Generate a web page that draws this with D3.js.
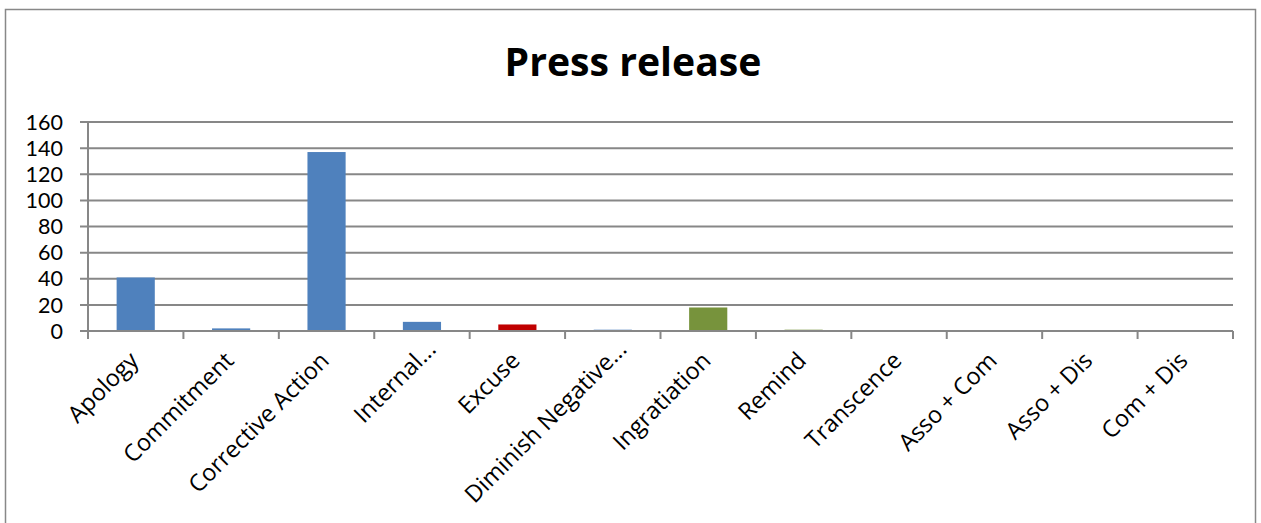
<!DOCTYPE html>
<html><head><meta charset="utf-8">
<script src="https://cdn.jsdelivr.net/npm/d3@7"></script>
<style>body{margin:0;background:#fff}svg{display:block}</style>
</head><body>
<svg id="c" width="1261" height="523"></svg>
<script>
const categories = ["Apology","Commitment","Corrective Action","Internal...","Excuse","Diminish Negative...","Ingratiation","Remind","Transcence","Asso + Com","Asso + Dis","Com + Dis"];
const values = [41, 2, 137, 7, 5, 1, 18, 1, 0, 0, 0, 0];
const colors = ["#4F81BD","#4F81BD","#4F81BD","#4F81BD","#C00000","#4F81BD","#77933C","#77933C","#4F81BD","#4F81BD","#4F81BD","#4F81BD"];
const yTicks = [0,20,40,60,80,100,120,140,160];
const title = "Press release";

const svg = d3.select("#c");
const m = {left: 88, right: 1233, top: 122, bottom: 331};
const font = "'Open Sans', 'Liberation Sans', sans-serif";
const gridColor = "#878787";

// frame
svg.append("rect").attr("x", 5.5).attr("y", 9.5).attr("width", 1250).attr("height", 530)
  .attr("fill", "#fff").attr("stroke", "#888").attr("stroke-width", 1.5);

const x = d3.scaleBand().domain(categories).range([m.left, m.right]).paddingInner(0.6).paddingOuter(0.3);
const xb = d3.scaleBand().domain(categories).range([m.left, m.right]);
const y = d3.scaleLinear().domain([0, 160]).range([m.bottom, m.top]);

// gridlines with left ticks
svg.append("g").selectAll("line").data(yTicks).join("line")
  .attr("x1", m.left - 8).attr("x2", m.right)
  .attr("y1", d => y(d)).attr("y2", d => y(d))
  .attr("stroke", gridColor).attr("stroke-width", 2);

// y axis line
svg.append("line").attr("x1", m.left).attr("x2", m.left).attr("y1", m.top).attr("y2", m.bottom + 8)
  .attr("stroke", gridColor).attr("stroke-width", 2);

// y labels
svg.append("g").selectAll("text").data(yTicks).join("text")
  .attr("x", 63).attr("y", d => y(d)).attr("dy", "0.36em")
  .attr("text-anchor", "end").attr("font-family", "Lato, 'Open Sans', sans-serif").attr("font-size", 21.5).attr("fill", "#000")
  .text(d => d);

// bars
svg.append("g").selectAll("rect").data(categories).join("rect")
  .attr("x", d => x(d)).attr("width", x.bandwidth())
  .attr("y", (d, i) => y(values[i])).attr("height", (d, i) => y(0) - y(values[i]))
  .attr("fill", (d, i) => colors[i]);

// x axis line and ticks
svg.append("line").attr("x1", m.left).attr("x2", m.right).attr("y1", y(0)).attr("y2", y(0))
  .attr("stroke", gridColor).attr("stroke-width", 2);
const bounds = categories.map(c => xb(c)).concat([m.right]);
svg.append("g").selectAll("line").data(bounds).join("line")
  .attr("x1", d => d).attr("x2", d => d).attr("y1", y(0)).attr("y2", y(0) + 8)
  .attr("stroke", gridColor).attr("stroke-width", 2);

// x labels
svg.append("g").selectAll("text").data(categories).join("text")
  .attr("transform", d => `translate(${xb(d) + xb.bandwidth()/2 + 4},${y(0) + 31}) rotate(-45)`)
  .attr("dx", d => d.endsWith("...") ? 16 : 0)
  .attr("text-anchor", "end").attr("font-family", font).attr("font-size", 23.5).attr("fill", "#000")
  .text(d => d);

// title
const t = svg.append("text").attr("x", 633).attr("y", 76).attr("text-anchor", "middle")
  .attr("font-family", font).attr("font-weight", "bold").attr("font-size", 38).attr("fill", "#000")
  .text(title);
const tw = t.node().getComputedTextLength();
t.attr("font-size", 38 * 257 / tw);
</script>
</body></html>
